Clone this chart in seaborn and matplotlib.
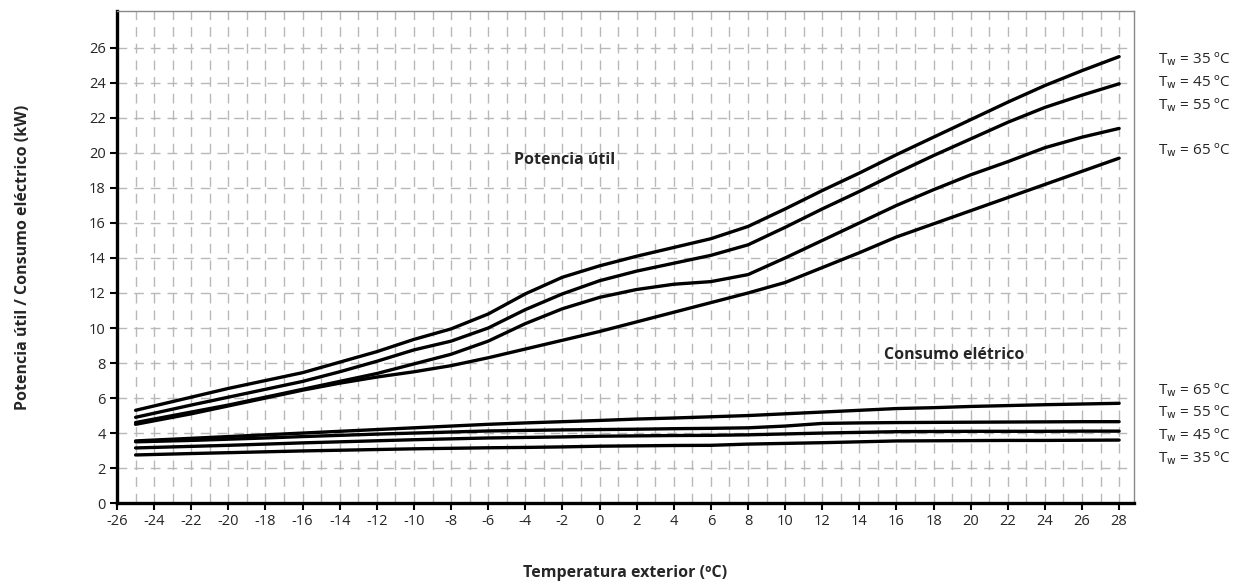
import numpy as np
import pandas as pd
import matplotlib
matplotlib.use('Agg')
import matplotlib.pyplot as plt
from matplotlib.ticker import MultipleLocator
import seaborn as sns

# outdoor temperature (ºC) at which the curves were read
temp = [-25, -22, -20, -18, -16, -14, -12, -10, -8, -6, -4, -2, 0, 2, 4,
        6, 8, 10, 12, 14, 16, 18, 20, 22, 24, 26, 28]

# Potencia útil (kW)
pot_35 = [5.3, 6.05, 6.55, 7.0, 7.45, 8.05, 8.65, 9.35, 9.95, 10.8, 11.95, 12.9, 13.55, 14.1,
          14.6, 15.1, 15.8, 16.8, 17.85, 18.85, 19.9, 20.9, 21.9, 22.9, 23.85, 24.7, 25.5]
pot_45 = [4.9, 5.6, 6.05, 6.5, 6.95, 7.5, 8.1, 8.75, 9.25, 10.0, 11.05, 11.95, 12.7, 13.25,
          13.7, 14.15, 14.75, 15.75, 16.8, 17.8, 18.85, 19.85, 20.8, 21.75, 22.6, 23.3, 23.95]
pot_55 = [4.6, 5.2, 5.6, 6.05, 6.5, 6.95, 7.4, 7.95, 8.5, 9.25, 10.25, 11.1, 11.75, 12.2,
          12.5, 12.65, 13.05, 14.0, 15.0, 16.0, 17.0, 17.9, 18.75, 19.5, 20.3, 20.9, 21.4]
pot_65 = [4.5, 5.1, 5.55, 6.0, 6.45, 6.85, 7.2, 7.5, 7.85, 8.3, 8.8, 9.3, 9.8, 10.35,
          10.9, 11.45, 12.0, 12.6, 13.45, 14.3, 15.2, 15.95, 16.7, 17.45, 18.2, 18.95, 19.7]

# Consumo eléctrico (kW)
con_65 = [3.55, 3.7, 3.8, 3.9, 4.0, 4.1, 4.2, 4.3, 4.4, 4.5, 4.58, 4.65, 4.72, 4.8,
          4.86, 4.93, 5.0, 5.1, 5.2, 5.3, 5.4, 5.45, 5.52, 5.57, 5.62, 5.66, 5.7]
con_55 = [3.5, 3.58, 3.65, 3.72, 3.8, 3.87, 3.94, 4.0, 4.06, 4.12, 4.15, 4.18, 4.2, 4.22,
          4.25, 4.27, 4.3, 4.4, 4.55, 4.58, 4.6, 4.61, 4.62, 4.63, 4.64, 4.65, 4.65]
con_45 = [3.15, 3.24, 3.3, 3.37, 3.44, 3.5, 3.56, 3.62, 3.67, 3.72, 3.75, 3.78, 3.82, 3.84,
          3.86, 3.87, 3.9, 3.95, 4.0, 4.04, 4.08, 4.09, 4.1, 4.1, 4.1, 4.11, 4.11]
con_35 = [2.75, 2.83, 2.88, 2.93, 2.98, 3.02, 3.06, 3.1, 3.13, 3.16, 3.18, 3.21, 3.25, 3.27,
          3.29, 3.3, 3.37, 3.41, 3.45, 3.5, 3.55, 3.56, 3.57, 3.58, 3.58, 3.59, 3.6]

series = {'P35': pot_35, 'P45': pot_45, 'P55': pot_55, 'P65': pot_65,
          'C65': con_65, 'C55': con_55, 'C45': con_45, 'C35': con_35}

# right-hand labels (top group = potencia, bottom group = consumo) and their heights
labels_pot = ['35', '45', '55', '65']
labels_pot_y = [25.37, 24.06, 22.74, 20.17]
labels_con = ['65', '55', '45', '35']
labels_con_y = [6.46, 5.2, 3.89, 2.57]

rows = []
for name, vals in series.items():
    for t, v in zip(temp, vals):
        rows.append((t, v, name))
df = pd.DataFrame(rows, columns=['temp', 'kw', 'serie'])

sns.set_theme(style='white')
plt.rcParams['font.family'] = ['Open Sans', 'DejaVu Sans']
plt.rcParams['axes.unicode_minus'] = False

fig = plt.figure(figsize=(12.53, 5.85), dpi=100)
ax = fig.add_axes([0.0934, 0.140, 0.8116, 0.841])

sns.lineplot(data=df, x='temp', y='kw', hue='serie', palette=['black'] * 8,
             estimator=None, legend=False, linewidth=2.4, ax=ax)

ax.set_xlim(-26, 28.8)
ax.set_ylim(0, 28.1)
ax.xaxis.set_major_locator(MultipleLocator(2))
ax.xaxis.set_minor_locator(MultipleLocator(1))
ax.set_yticks(np.arange(0, 27, 2))

grid_kw = dict(color='#b8b8b8', linestyle=(0, (7, 5)), linewidth=1.0)
ax.grid(True, which='both', axis='x', **grid_kw)
ax.grid(True, which='major', axis='y', **grid_kw)
ax.set_axisbelow(True)

ax.tick_params(axis='both', which='major', direction='out', length=5, width=1.5,
               color='black', labelsize=10.5, pad=3, left=True, bottom=True)
ax.tick_params(axis='x', which='minor', length=0)

for side in ['left', 'bottom']:
    ax.spines[side].set_color('black')
    ax.spines[side].set_linewidth(2.4)
for side in ['top', 'right']:
    ax.spines[side].set_color('#888888')
    ax.spines[side].set_linewidth(1.0)

ax.set_xlabel('Temperatura exterior (ºC)', fontsize=11.5, fontweight='bold', labelpad=26)
ax.set_ylabel('Potencia útil / Consumo eléctrico (kW)', fontsize=11.5, fontweight='bold', labelpad=42)

ax.text(-1.9, 19.6, 'Potencia útil', fontsize=11.5, fontweight='bold', ha='center', va='center')
ax.text(19.1, 8.45, 'Consumo elétrico', fontsize=11.5, fontweight='bold', ha='center', va='center')

tr = ax.get_yaxis_transform()
for lab, yv in zip(labels_pot + labels_con, labels_pot_y + labels_con_y):
    ax.text(1.024, yv, 'T$_{\\mathrm{w}}$ = ' + lab + ' ºC', transform=tr, fontsize=11,
            ha='left', va='center', clip_on=False)

fig.savefig('out.png', dpi=100)
